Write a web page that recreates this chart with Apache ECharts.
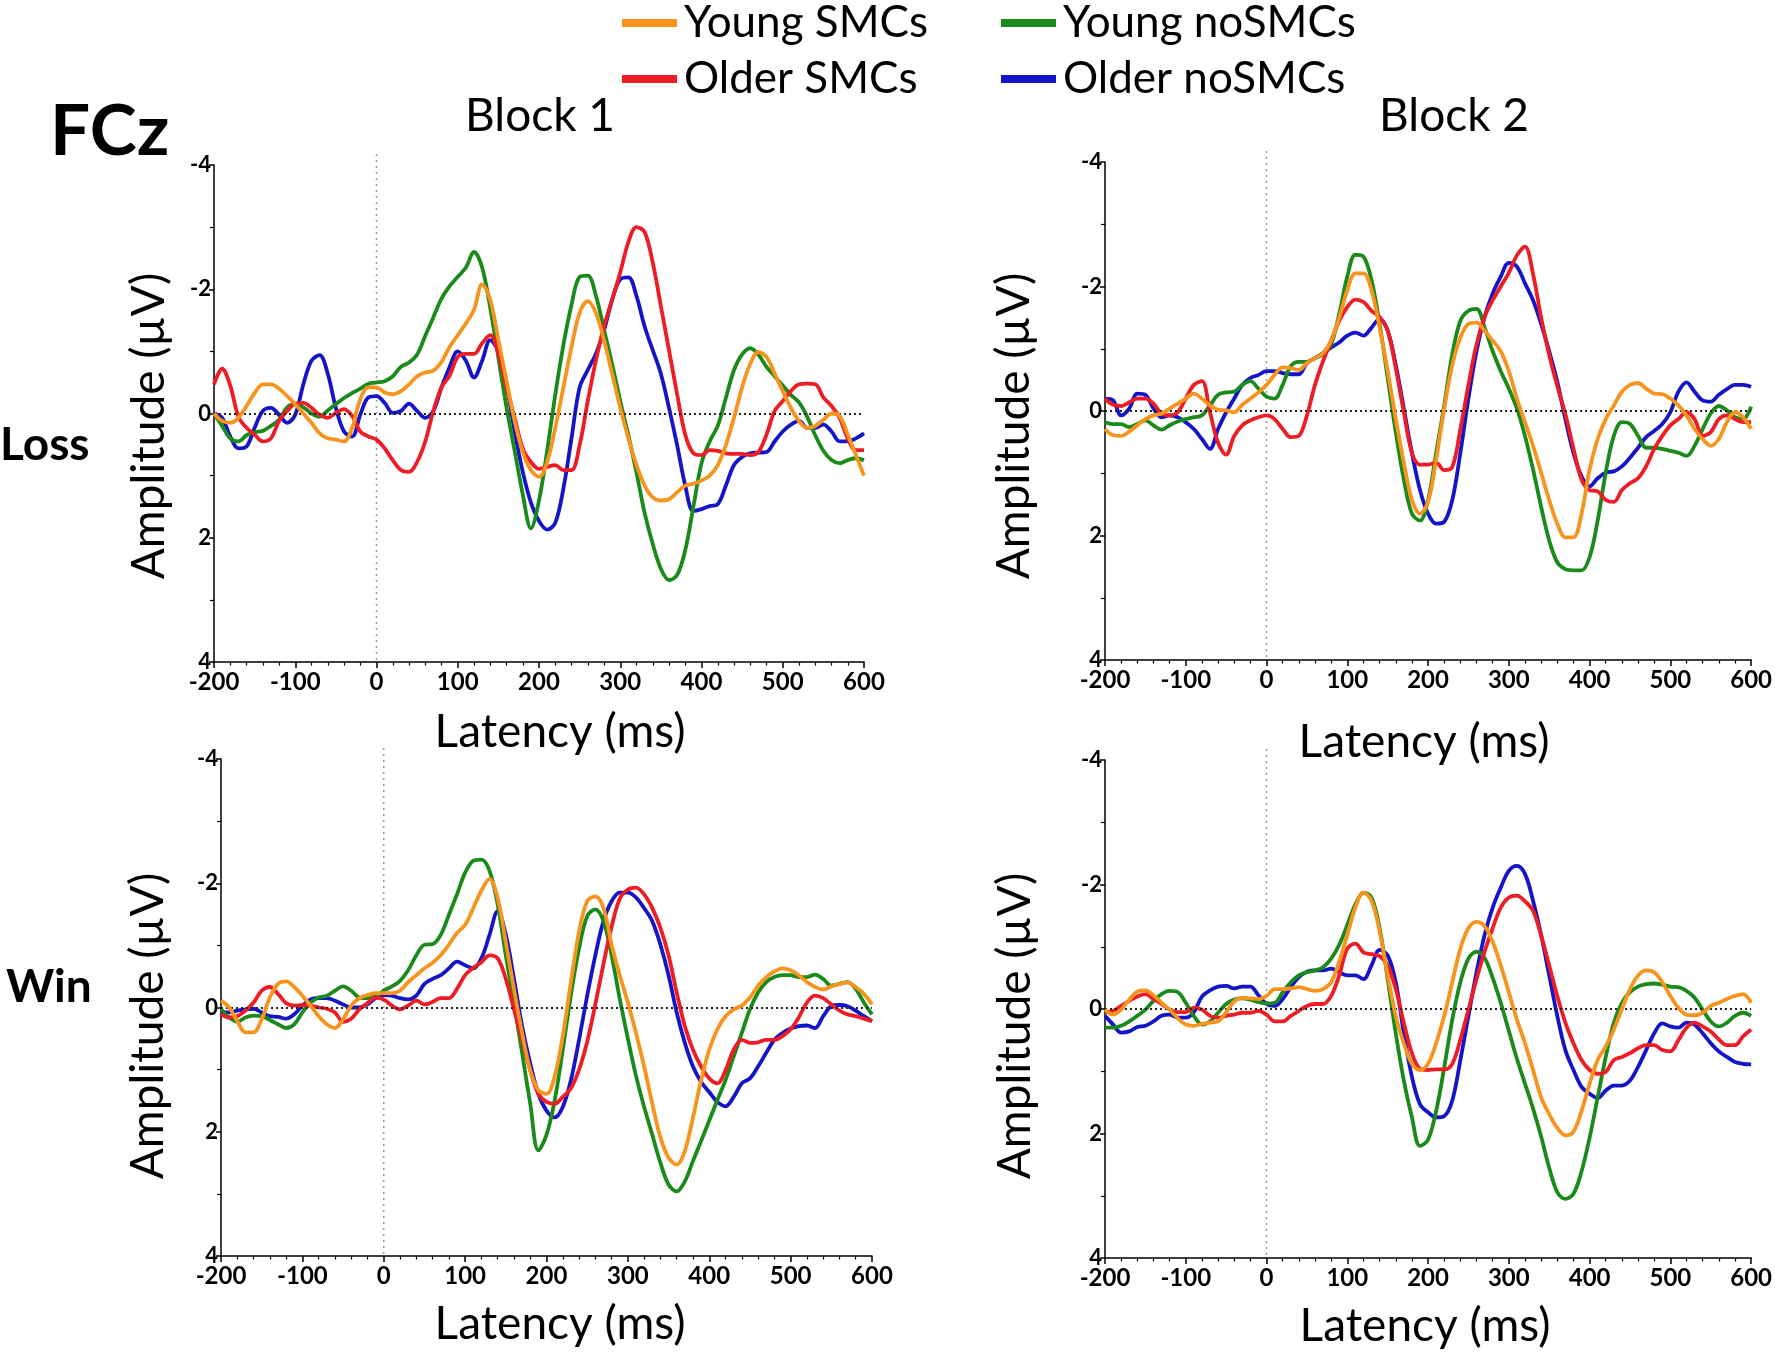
<!DOCTYPE html>
<html><head><meta charset="utf-8">
<script src="https://cdn.jsdelivr.net/npm/echarts/dist/echarts.min.js"></script>
<style>html,body{margin:0;padding:0;background:#fff}#c{width:1775px;height:1356px}</style>
</head><body><div id="c"></div>
<script>
// ---- data (latency in ms, amplitude in µV) ----
const latency = [-200,-190,-180,-170,-160,-150,-140,-130,-120,-110,-100,-90,-80,-70,-60,-50,-40,-30,-20,-10,0,10,20,30,40,50,60,70,80,90,100,110,120,130,140,150,160,170,180,190,200,210,220,230,240,250,260,270,280,290,300,310,320,330,340,350,360,370,380,390,400,410,420,430,440,450,460,470,480,490,500,510,520,530,540,550,560,570,580,590,600];
const seriesNames = ['Young SMCs','Young noSMCs','Older SMCs','Older noSMCs'];
const panelTitles = ['Block 1','Block 2'];
const rowTitles = ['Loss','Win'];
const xTicks = [-200,-100,0,100,200,300,400,500,600];
const yTicks = [-4,-2,0,2,4];

// Loss, Block 1
const lossB1_youngSMC = [0.0,0.12,0.15,0.07,-0.12,-0.33,-0.47,-0.47,-0.4,-0.28, -0.15,0.0,0.15,0.32,0.4,0.42,0.45,0.23,-0.23,-0.42, -0.42,-0.34,-0.31,-0.36,-0.47,-0.6,-0.66,-0.69,-0.83,-1.07, -1.26,-1.45,-1.67,-2.08,-1.83,-1.18,-0.53,0.12,0.62,0.91, 1.02,0.78,0.23,-0.42,-1.07,-1.62,-1.81,-1.62,-1.18,-0.64, -0.09,0.4,0.83,1.16,1.35,1.4,1.38,1.27,1.16,1.13, 1.08,1.0,0.83,0.51,0.07,-0.42,-0.8,-0.99,-0.91,-0.64, -0.36,-0.09,0.12,0.23,0.2,0.1,0.0,0.04,0.34,0.67, 1.0];
const lossB1_youngNo = [0.0,0.2,0.4,0.45,0.35,0.3,0.28,0.2,0.1,-0.1, -0.15,-0.1,0.0,0.05,-0.05,-0.15,-0.25,-0.33,-0.4,-0.48, -0.5,-0.52,-0.6,-0.75,-0.82,-0.95,-1.25,-1.55,-1.85,-2.05, -2.2,-2.35,-2.6,-2.35,-1.7,-0.9,-0.1,0.6,1.3,1.85, 1.4,0.6,-0.3,-1.1,-1.75,-2.2,-2.22,-1.9,-1.35,-0.8, -0.2,0.35,0.95,1.6,2.1,2.5,2.68,2.6,2.2,1.5, 0.8,0.45,0.2,-0.25,-0.7,-0.95,-1.05,-0.95,-0.75,-0.6, -0.45,-0.3,-0.18,0.05,0.35,0.6,0.75,0.8,0.75,0.72, 0.75];
const lossB1_olderSMC = [-0.47,-0.72,-0.45,0.05,0.23,0.34,0.45,0.4,0.12,-0.04, -0.16,-0.17,-0.09,0.02,0.07,-0.01,-0.07,0.04,0.29,0.37, 0.42,0.56,0.75,0.91,0.94,0.78,0.45,-0.04,-0.42,-0.61, -0.91,-0.96,-0.96,-1.13,-1.26,-0.96,-0.42,0.07,0.56,0.78, 0.89,0.86,0.83,0.91,0.91,0.51,-0.2,-0.85,-1.4,-1.83, -2.27,-2.76,-3.0,-2.92,-2.43,-1.73,-1.02,-0.31,0.34,0.64, 0.67,0.59,0.6,0.64,0.65,0.65,0.67,0.62,0.34,-0.04, -0.2,-0.36,-0.47,-0.48,-0.47,-0.26,-0.12,0.07,0.4,0.59, 0.59];
const lossB1_olderNo = [0.0,0.07,0.37,0.56,0.53,0.23,-0.04,-0.09,0.02,0.15, 0.02,-0.47,-0.85,-0.94,-0.64,-0.09,0.29,0.37,0.02,-0.26, -0.28,-0.17,-0.01,-0.04,-0.16,-0.04,0.07,-0.04,-0.42,-0.75, -1.0,-0.85,-0.58,-0.85,-1.18,-1.0,-0.47,0.29,0.94,1.43, 1.73,1.87,1.76,1.21,0.4,-0.42,-0.7,-0.96,-1.34,-1.83, -2.16,-2.19,-1.89,-1.4,-1.02,-0.64,-0.09,0.51,1.16,1.57, 1.54,1.49,1.46,1.16,0.83,0.7,0.64,0.63,0.62,0.45, 0.29,0.18,0.12,0.23,0.23,0.18,0.29,0.45,0.45,0.4, 0.32];

// Loss, Block 2
const lossB2_youngSMC = [0.29,0.39,0.4,0.33,0.23,0.13,0.07,0.04,-0.04,-0.12, -0.2,-0.28,-0.2,-0.09,-0.02,-0.01,0.02,-0.1,-0.2,-0.3, -0.42,-0.58,-0.7,-0.69,-0.66,-0.77,-0.85,-0.93,-1.13,-1.5, -1.94,-2.21,-2.21,-1.94,-1.34,-0.64,0.13,0.83,1.43,1.65, 1.46,0.78,-0.04,-0.74,-1.18,-1.4,-1.42,-1.29,-1.13,-0.96, -0.64,-0.2,0.18,0.56,0.99,1.43,1.81,2.03,2.03,1.65, 0.94,0.45,0.13,-0.09,-0.31,-0.42,-0.45,-0.36,-0.28,-0.27, -0.2,-0.09,0.07,0.29,0.45,0.56,0.45,0.18,0.02,0.1, 0.29];
const lossB2_youngNo = [0.18,0.21,0.21,0.26,0.21,0.15,0.23,0.3,0.23,0.17, 0.13,0.1,0.07,-0.09,-0.26,-0.3,-0.31,-0.42,-0.48,-0.36, -0.23,-0.2,-0.42,-0.72,-0.79,-0.79,-0.85,-0.91,-1.07,-1.56, -2.16,-2.51,-2.48,-2.1,-1.4,-0.53,0.34,1.1,1.65,1.76, 1.43,0.67,-0.09,-0.91,-1.45,-1.61,-1.64,-1.34,-0.96,-0.64, -0.36,-0.04,0.4,0.94,1.54,2.08,2.43,2.54,2.56,2.56, 2.35,1.76,0.99,0.4,0.18,0.21,0.4,0.59,0.59,0.61, 0.64,0.67,0.72,0.56,0.29,0.04,-0.08,-0.01,0.1,0.13, -0.07];
const lossB2_olderSMC = [-0.2,-0.1,-0.08,-0.14,-0.2,-0.2,-0.12,0.04,0.07,0.02, -0.2,-0.42,-0.48,0.02,0.51,0.7,0.4,0.23,0.15,0.1, 0.07,0.13,0.29,0.42,0.4,0.07,-0.42,-0.8,-1.13,-1.45, -1.67,-1.79,-1.75,-1.61,-1.51,-1.29,-0.69,0.02,0.67,0.86, 0.86,0.83,0.95,0.9,0.29,-0.42,-1.07,-1.51,-1.78,-2.0, -2.22,-2.5,-2.64,-2.2,-1.5,-0.9,-0.4,0.05,0.6,1.1, 1.27,1.29,1.43,1.46,1.27,1.16,1.08,0.89,0.61,0.4, 0.23,0.13,0.02,0.13,0.4,0.34,0.13,0.07,0.13,0.18, 0.18];
const lossB2_olderNo = [-0.2,-0.17,0.07,-0.04,-0.28,-0.26,-0.04,0.1,0.07,0.1, 0.18,0.29,0.45,0.61,0.29,0.02,-0.2,-0.42,-0.53,-0.58, -0.64,-0.64,-0.61,-0.59,-0.59,-0.77,-0.85,-0.93,-1.02,-1.1, -1.21,-1.26,-1.21,-1.34,-1.48,-1.29,-0.74,-0.04,0.67,1.27, 1.65,1.81,1.78,1.43,0.67,-0.2,-0.96,-1.51,-1.89,-2.16, -2.38,-2.32,-2.05,-1.78,-1.4,-0.96,-0.47,0.13,0.67,1.05, 1.21,1.08,0.99,0.97,0.89,0.75,0.59,0.42,0.32,0.21, 0.02,-0.31,-0.46,-0.31,-0.17,-0.15,-0.26,-0.35,-0.42,-0.42, -0.39];

// Win, Block 1
const winB1_youngSMC = [-0.11,0.0,0.22,0.4,0.4,0.19,-0.16,-0.38,-0.42,-0.33, -0.19,-0.03,0.14,0.27,0.33,0.19,-0.03,-0.15,-0.2,-0.23, -0.23,-0.23,-0.27,-0.41,-0.52,-0.63,-0.72,-0.84,-1.01,-1.2, -1.33,-1.6,-1.88,-2.07,-1.76,-1.05,-0.3,0.41,1.01,1.33, 1.39,1.11,0.46,-0.41,-1.22,-1.71,-1.79,-1.6,-1.01,-0.52, -0.08,0.41,0.95,1.55,2.09,2.42,2.53,2.31,1.77,1.17, 0.68,0.35,0.14,0.03,-0.03,-0.16,-0.35,-0.49,-0.58,-0.63, -0.6,-0.52,-0.41,-0.33,-0.29,-0.34,-0.38,-0.4,-0.33,-0.22, -0.05];
const winB1_youngNo = [0.03,0.16,0.23,0.16,0.13,0.14,0.2,0.27,0.33,0.27, 0.08,-0.08,-0.16,-0.19,-0.27,-0.34,-0.27,-0.16,-0.15,-0.18, -0.27,-0.34,-0.43,-0.6,-0.84,-1.01,-1.02,-1.17,-1.49,-1.82, -2.17,-2.36,-2.38,-2.2,-1.66,-0.84,-0.08,0.73,1.55,2.3, 2.05,1.5,0.68,-0.2,-0.95,-1.47,-1.58,-1.39,-0.84,-0.14, 0.5,1.1,1.6,2.05,2.5,2.85,2.96,2.8,2.47,2.15, 1.82,1.49,1.17,0.79,0.41,0.03,-0.24,-0.41,-0.49,-0.52, -0.52,-0.49,-0.49,-0.53,-0.46,-0.35,-0.38,-0.41,-0.3,-0.08, 0.11];
const winB1_olderSMC = [0.11,0.16,0.14,0.05,-0.08,-0.27,-0.33,-0.22,-0.07,-0.03, -0.04,-0.03,0.0,0.02,0.08,0.23,0.18,0.03,-0.07,-0.16, -0.13,-0.03,0.03,-0.03,-0.11,-0.05,-0.09,-0.15,-0.15,-0.3, -0.52,-0.64,-0.73,-0.84,-0.79,-0.46,0.03,0.52,1.01,1.39, 1.52,1.55,1.44,1.3,1.0,0.55,-0.05,-0.7,-1.3,-1.75, -1.9,-1.93,-1.82,-1.6,-1.28,-0.84,-0.24,0.3,0.68,0.95, 1.14,1.22,1.01,0.68,0.52,0.57,0.56,0.52,0.52,0.46, 0.35,0.16,-0.08,-0.19,-0.15,-0.05,0.05,0.11,0.14,0.18, 0.22];
const winB1_olderNo = [0.07,0.08,0.05,0.03,0.02,0.08,0.14,0.15,0.18,0.11, -0.03,-0.13,-0.15,-0.15,-0.11,-0.05,0.0,0.0,-0.05,-0.15, -0.2,-0.19,-0.15,-0.13,-0.19,-0.38,-0.46,-0.52,-0.63,-0.74, -0.68,-0.63,-0.79,-1.17,-1.55,-1.17,-0.46,0.3,0.9,1.39, 1.66,1.77,1.6,1.17,0.52,-0.19,-0.84,-1.39,-1.71,-1.85, -1.85,-1.77,-1.6,-1.39,-1.01,-0.52,0.08,0.57,0.95,1.2, 1.36,1.52,1.59,1.44,1.22,1.14,0.95,0.73,0.52,0.41, 0.34,0.3,0.29,0.33,0.14,-0.02,-0.04,-0.02,0.05,0.14, 0.22];

// Win, Block 2
const winB2_youngSMC = [0.01,0.09,0.01,-0.15,-0.28,-0.3,-0.22,-0.1,0.01,0.15, 0.25,0.27,0.24,0.22,0.2,0.05,-0.12,-0.18,-0.17,-0.16, -0.21,-0.32,-0.32,-0.33,-0.35,-0.32,-0.29,-0.32,-0.43,-0.76, -1.19,-1.63,-1.87,-1.74,-1.25,-0.54,0.11,0.55,0.88,0.98, 0.88,0.55,0.11,-0.43,-0.97,-1.3,-1.4,-1.33,-1.08,-0.7, -0.27,0.17,0.55,0.98,1.42,1.69,1.91,2.03,1.97,1.64, 1.2,0.82,0.6,0.33,0.0,-0.32,-0.54,-0.62,-0.59,-0.43, -0.21,-0.02,0.09,0.1,0.06,-0.05,-0.1,-0.16,-0.21,-0.24, -0.1];
const winB2_youngNo = [0.3,0.3,0.27,0.2,0.11,0.01,-0.13,-0.24,-0.29,-0.27, -0.1,0.11,0.25,0.2,0.06,-0.08,-0.15,-0.17,-0.15,-0.11, -0.09,-0.1,-0.27,-0.43,-0.54,-0.59,-0.62,-0.67,-0.81,-1.03, -1.35,-1.68,-1.87,-1.79,-1.3,-0.48,0.39,1.15,1.74,2.2, 2.1,1.64,0.94,0.17,-0.43,-0.81,-0.92,-0.82,-0.5,-0.1, 0.35,0.8,1.2,1.6,2.05,2.55,2.94,3.05,2.97,2.61, 2.07,1.42,0.77,0.22,-0.1,-0.27,-0.36,-0.4,-0.41,-0.39, -0.36,-0.35,-0.29,-0.18,0.01,0.2,0.28,0.22,0.11,0.06, 0.11];
const winB2_olderSMC = [0.06,0.03,-0.05,-0.13,-0.2,-0.24,-0.16,-0.08,0.01,0.05, 0.05,-0.02,0.01,0.11,0.14,0.11,0.09,0.06,0.06,0.03, 0.09,0.2,0.2,0.11,0.03,-0.05,-0.08,-0.08,-0.21,-0.54, -0.97,-1.05,-0.91,-0.88,-0.85,-0.7,-0.32,0.22,0.71,0.96, 0.98,0.97,0.97,0.88,0.49,0.01,-0.48,-0.92,-1.3,-1.63, -1.79,-1.82,-1.73,-1.58,-1.18,-0.7,-0.21,0.22,0.55,0.82, 0.98,1.04,1.01,0.82,0.77,0.71,0.63,0.58,0.58,0.66, 0.68,0.5,0.3,0.22,0.28,0.36,0.49,0.58,0.58,0.44, 0.33];
const winB2_olderNo = [0.11,0.25,0.38,0.36,0.29,0.27,0.2,0.11,0.09,0.14, 0.14,0.05,-0.2,-0.3,-0.36,-0.37,-0.33,-0.36,-0.36,-0.22, -0.08,-0.05,-0.16,-0.35,-0.51,-0.6,-0.62,-0.62,-0.65,-0.59, -0.54,-0.54,-0.48,-0.7,-0.95,-0.86,-0.43,0.39,1.09,1.53, 1.66,1.74,1.72,1.47,0.82,0.11,-0.59,-1.19,-1.63,-1.95, -2.22,-2.3,-2.17,-1.74,-1.19,-0.54,0.11,0.66,0.98,1.25, 1.36,1.43,1.31,1.23,1.23,1.15,0.93,0.66,0.39,0.23, 0.28,0.3,0.22,0.25,0.39,0.55,0.68,0.77,0.85,0.88, 0.89];

const panels = [
  [lossB1_youngSMC, lossB1_youngNo, lossB1_olderSMC, lossB1_olderNo],
  [lossB2_youngSMC, lossB2_youngNo, lossB2_olderSMC, lossB2_olderNo],
  [winB1_youngSMC, winB1_youngNo, winB1_olderSMC, winB1_olderNo],
  [winB2_youngSMC, winB2_youngNo, winB2_olderSMC, winB2_olderNo]
];

// ---- styling / layout ----
const colors = ['#F7941D', '#1A8A1A', '#EE1C24', '#1414C8'];
const zOrder = [5, 3, 4, 2];
const FONT = 'Lato, "Open Sans", sans-serif';
const grids = [
  {left: 214, top: 165, width: 650, height: 497},
  {left: 1105, top: 162, width: 649, height: 498},
  {left: 221, top: 759, width: 651, height: 497},
  {left: 1105, top: 760, width: 649, height: 498}
];

const xAxes = grids.map((g, i) => ({
  type: 'value', gridIndex: i, min: -200, max: 600, interval: 100,
  axisLine: {show: true, onZero: false, lineStyle: {color: '#000', width: 1.5}},
  axisTick: {show: true, inside: false, length: 6, lineStyle: {color: '#000', width: 1.5}},
  minorTick: {show: true, splitNumber: 5, length: 3.5, lineStyle: {color: '#000', width: 1.2}},
  splitLine: {show: false},
  axisLabel: {show: true, showMinLabel: true, showMaxLabel: true, color: '#000', fontFamily: FONT, fontWeight: 'bold', fontSize: 24, margin: 8,
    formatter: v => xTicks.includes(v) ? String(v) : ''}
}));
const yAxes = grids.map((g, i) => ({
  type: 'value', gridIndex: i, min: -4, max: 4, interval: 2, inverse: true,
  axisLine: {show: true, onZero: false, lineStyle: {color: '#000', width: 1.5}},
  axisTick: {show: true, inside: false, length: 5, lineStyle: {color: '#000', width: 1.5}},
  minorTick: {show: true, splitNumber: 2, length: 4, lineStyle: {color: '#000', width: 1.2}},
  splitLine: {show: false},
  axisLabel: {show: true, showMinLabel: true, showMaxLabel: true, color: '#000', fontFamily: FONT, fontWeight: 'bold', fontSize: 22, margin: 3,
    formatter: v => yTicks.includes(v) ? String(v) : ''}
}));

const series = [];
panels.forEach((vals, p) => {
  vals.forEach((arr, k) => {
    const s = {
      type: 'line', name: seriesNames[k], xAxisIndex: p, yAxisIndex: p,
      data: latency.map((t, i) => [t, arr[i]]),
      smooth: 0.35, showSymbol: false, symbol: 'none', z: zOrder[k],
      lineStyle: {color: colors[k], width: 3.8},
      itemStyle: {color: colors[k]},
      emphasis: {disabled: true}
    };
    if (k === 1) {
      s.markLine = {
        silent: true, symbol: 'none', label: {show: false}, animation: false,
        lineStyle: {color: '#222', type: [2, 3], width: 2},
        data: [{yAxis: 0}]
      };
    }
    series.push(s);
  });
});

const legendBase = {
  orient: 'horizontal', icon: 'rect', itemWidth: 55, itemHeight: 8, padding: 0, itemGap: 0,
  selectedMode: false,
  textStyle: {fontFamily: FONT, fontSize: 44, color: '#000', lineHeight: 50, padding: [0, 0, 0, 2]}
};
const legends = [
  Object.assign({}, legendBase, {data: [seriesNames[0]], left: 622, top: -2}),
  Object.assign({}, legendBase, {data: [seriesNames[1]], left: 1001, top: -2}),
  Object.assign({}, legendBase, {data: [seriesNames[2]], left: 622, top: 54}),
  Object.assign({}, legendBase, {data: [seriesNames[3]], left: 1001, top: 54})
];

function txt(id, text, x, y, font, align, rot) {
  return {type: 'text', id: id, x: x, y: y, rotation: rot || 0, silent: true,
    style: {text: text, font: font, fill: '#000', align: align || 'center', verticalAlign: 'middle'}};
}
const BIG = '46px ' + FONT;
const BOLD = 'bold 46px ' + FONT;
const texts = [
  txt('fcz', 'FCz', 50, 132, 'bold 71px ' + FONT, 'left'),
  txt('b1', panelTitles[0], 540, 116, BIG),
  txt('b2', panelTitles[1], 1454, 116, BIG),
  txt('r1', rowTitles[0], 0, 445, BOLD, 'left'),
  txt('r2', rowTitles[1], 6, 987, BOLD, 'left'),
  txt('l1', 'Latency (ms)', 560, 732, BIG),
  txt('l2', 'Latency (ms)', 1424, 742, BIG),
  txt('l3', 'Latency (ms)', 560, 1324, BIG),
  txt('l4', 'Latency (ms)', 1425, 1326, BIG),
  txt('a1', 'Amplitude (µV)', 149, 426, BIG, 'center', Math.PI / 2),
  txt('a2', 'Amplitude (µV)', 1014, 426, BIG, 'center', Math.PI / 2),
  txt('a3', 'Amplitude (µV)', 148, 1026, BIG, 'center', Math.PI / 2),
  txt('a4', 'Amplitude (µV)', 1015, 1026, BIG, 'center', Math.PI / 2)
];

const chart = echarts.init(document.getElementById('c'), null, {renderer: 'canvas'});
chart.setOption({
  animation: false,
  backgroundColor: '#fff',
  grid: grids,
  xAxis: xAxes,
  yAxis: yAxes,
  legend: legends,
  series: series,
  graphic: {elements: texts}
});

// vertical dotted stimulus-onset line at 0 ms (slightly above each plot)
const vlines = grids.map((g, i) => {
  const top = chart.convertToPixel({xAxisIndex: i, yAxisIndex: i}, [0, -4]);
  const bot = chart.convertToPixel({xAxisIndex: i, yAxisIndex: i}, [0, 4]);
  return {type: 'line', id: 'v' + i, silent: true, z: 1,
    shape: {x1: top[0], y1: top[1] - 11, x2: bot[0], y2: bot[1]},
    style: {stroke: '#9a9a9a', lineWidth: 1.5, lineDash: [2, 4]}};
});
chart.setOption({graphic: {elements: texts.concat(vlines)}});
</script></body></html>
